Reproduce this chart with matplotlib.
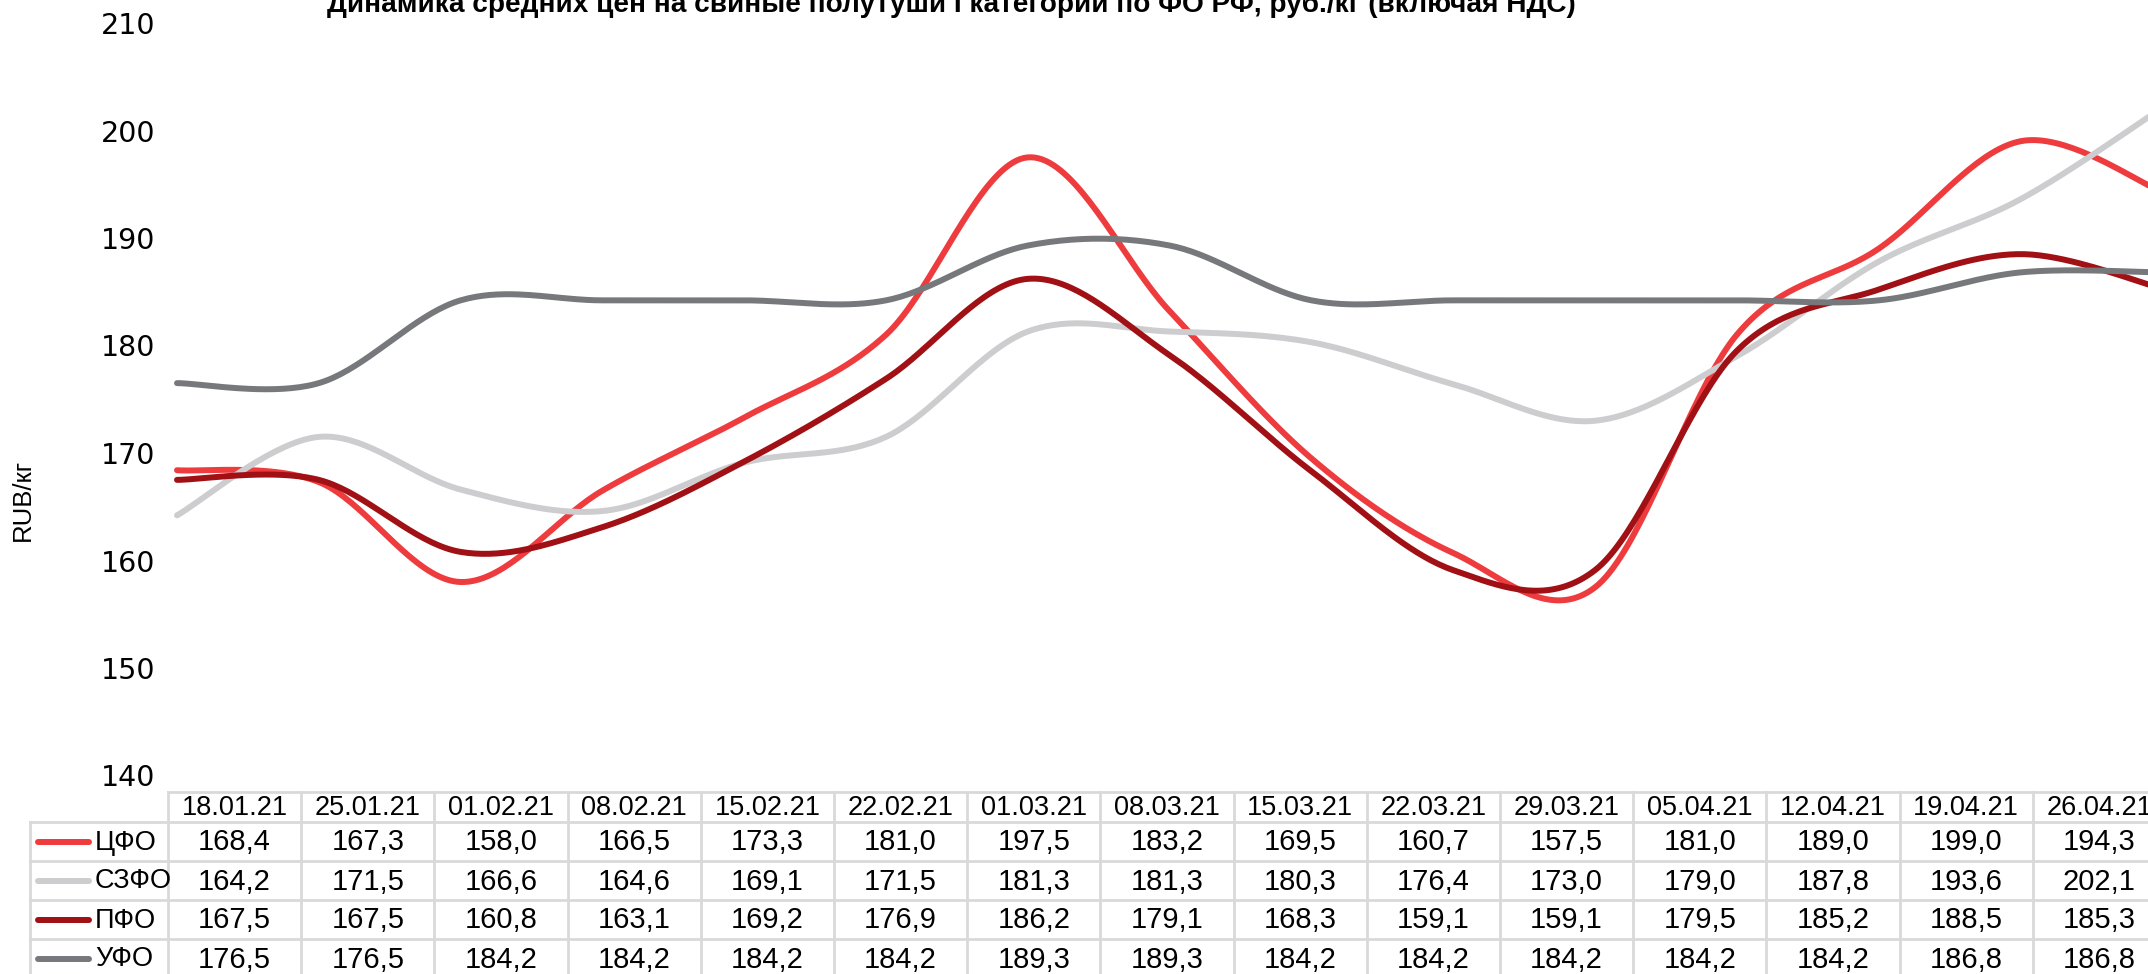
import matplotlib
matplotlib.use("Agg")
import matplotlib.pyplot as plt
import numpy as np
from matplotlib import font_manager

# ---------------- data ----------------
dates = ["18.01.21", "25.01.21", "01.02.21", "08.02.21", "15.02.21", "22.02.21",
         "01.03.21", "08.03.21", "15.03.21", "22.03.21", "29.03.21", "05.04.21",
         "12.04.21", "19.04.21", "26.04.21"]
series_names = ["ЦФО", "СЗФО", "ПФО", "УФО"]
cfo = [168.4, 167.3, 158.0, 166.5, 173.3, 181.0, 197.5, 183.2, 169.5, 160.7, 157.5, 181.0, 189.0, 199.0, 194.3]
szfo = [164.2, 171.5, 166.6, 164.6, 169.1, 171.5, 181.3, 181.3, 180.3, 176.4, 173.0, 179.0, 187.8, 193.6, 202.1]
pfo = [167.5, 167.5, 160.8, 163.1, 169.2, 176.9, 186.2, 179.1, 168.3, 159.1, 159.1, 179.5, 185.2, 188.5, 185.3]
ufo = [176.5, 176.5, 184.2, 184.2, 184.2, 184.2, 189.3, 189.3, 184.2, 184.2, 184.2, 184.2, 184.2, 186.8, 186.8]
yticks = [140, 150, 160, 170, 180, 190, 200, 210]
title = "Динамика средних цен на свиные полутуши I категории по ФО РФ, руб./кг (включая НДС)"
ylabel = "RUB/кг"

colors = ["#EE3B3E", "#CDCDCF", "#A01014", "#76787B"]
series = [cfo, szfo, pfo, ufo]

names = {f.name for f in font_manager.fontManager.ttflist}
narrow = "Liberation Sans Narrow" if "Liberation Sans Narrow" in names else "Liberation Sans"
plt.rcParams["font.family"] = ["Liberation Sans", "DejaVu Sans"]

W, H = 2148, 974
fig = plt.figure(figsize=(W / 100, H / 100), dpi=100)


def smooth(xs, ys, n=40):
    """Excel-like smoothed line (Catmull-Rom Bezier)."""
    P = np.column_stack([xs, ys]).astype(float)
    P = np.vstack([P[0], P, P[-1]])
    out = []
    t = np.linspace(0, 1, n)[:, None]
    for i in range(1, len(P) - 2):
        p0, p1, p2, p3 = P[i - 1], P[i], P[i + 1], P[i + 2]
        c1 = p1 + (p2 - p0) / 6.0
        c2 = p2 - (p3 - p1) / 6.0
        seg = ((1 - t) ** 3) * p1 + 3 * ((1 - t) ** 2) * t * c1 + 3 * (1 - t) * t ** 2 * c2 + t ** 3 * p2
        out.append(seg if i == 1 else seg[1:])
    out = np.vstack(out)
    return out[:, 0], out[:, 1]


# ---------------- chart axes ----------------
x0_px, step_px = 177.0, 141.8
y140_px, y210_px = 775.5, 23.0
ax = fig.add_axes([x0_px / W, (H - y140_px) / H, 1 - x0_px / W, (y140_px - y210_px) / H])
ax.set_xlim(0, (W - x0_px) / step_px)
ax.set_ylim(140, 210)
for s in ax.spines.values():
    s.set_visible(False)
ax.set_xticks([])
ax.set_yticks(yticks)
ax.set_yticklabels([str(v) for v in yticks], fontfamily="DejaVu Sans", fontsize=20.5)
ax.tick_params(axis="y", length=0, pad=15.8)
ax.patch.set_alpha(0)

xs = np.arange(len(dates))
for vals, c in zip(series, colors):
    sx, sy = smooth(xs, vals)
    ax.plot(sx, sy, color=c, lw=4.3, solid_capstyle="round", clip_on=False, zorder=3)

# ---------------- overlay for table / texts ----------------
ov = fig.add_axes([0, 0, 1, 1])
ov.set_xlim(0, W)
ov.set_ylim(H, 0)
ov.axis("off")
ov.patch.set_alpha(0)

grid_c = "#D9D9D9"
glw = 2.0
leg_left, tab_left, col_w = 30, 168, 133.2
row_edges = [792, 822, 861, 900, 939, 978]
ncol = len(dates)
tab_right = tab_left + ncol * col_w

# horizontal lines
ov.plot([tab_left, tab_right], [row_edges[0]] * 2, color=grid_c, lw=glw)
for yv in row_edges[1:]:
    ov.plot([leg_left, tab_right], [yv] * 2, color=grid_c, lw=glw)
# vertical lines
ov.plot([leg_left, leg_left], [row_edges[1], row_edges[-1]], color=grid_c, lw=glw)
for k in range(ncol + 1):
    xv = tab_left + k * col_w
    ov.plot([xv, xv], [row_edges[0], row_edges[-1]], color=grid_c, lw=glw)

fs_head = 19.5
fs_val = 21
for k, d in enumerate(dates):
    cx = tab_left + (k + 0.5) * col_w
    ov.text(cx, (row_edges[0] + row_edges[1]) / 2 + 1, d, ha="center", va="center", fontsize=fs_head)
    for r, vals in enumerate(series):
        cy = (row_edges[r + 1] + row_edges[r + 2]) / 2 + 1
        ov.text(cx, cy, f"{vals[k]:.1f}".replace(".", ","), ha="center", va="center", fontsize=fs_val)

for r, (nm, c) in enumerate(zip(series_names, colors)):
    cy = (row_edges[r + 1] + row_edges[r + 2]) / 2
    ov.plot([38, 89], [cy, cy], color=c, lw=4.3, solid_capstyle="round")
    ov.text(95, cy + 1, nm, ha="left", va="center", fontsize=fs_head)

# title (clipped at top edge like the reference)
renderer = fig.canvas.get_renderer()
t = ov.text(951, 12, title, ha="center", va="baseline", fontsize=20,
            fontfamily=[narrow, "DejaVu Sans"], fontweight="bold")
bb = t.get_window_extent(renderer)
t.set_fontsize(20 * 1244.0 / bb.width)

yl = ov.text(23, 500, ylabel, ha="center", va="center", rotation=90, fontsize=18,
             fontfamily=[narrow, "DejaVu Sans"])
bb = yl.get_window_extent(renderer)
yl.set_fontsize(18 * 82.0 / bb.height)

fig.savefig("out.png", dpi=100)
